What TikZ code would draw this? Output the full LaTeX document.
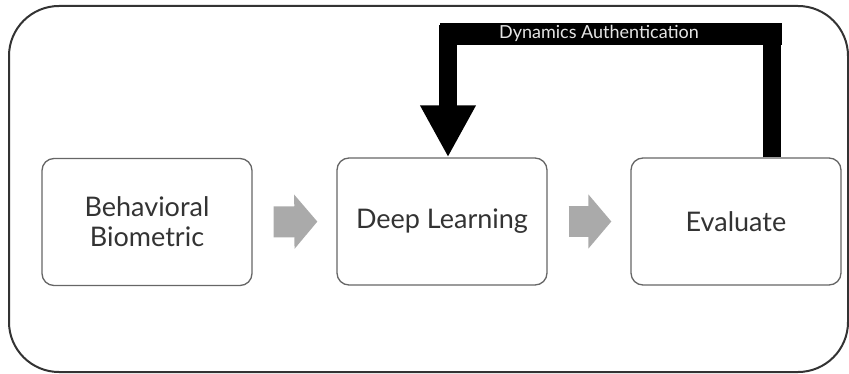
\documentclass[tikz,border=0pt]{standalone}
\usepackage{fontspec}
\setmainfont{Lato}
\usetikzlibrary{arrows.meta}
\definecolor{txtgray}{HTML}{333333}
\definecolor{boxgray}{HTML}{666666}
\definecolor{flowgray}{HTML}{AAAAAA}
\tikzset{
  stagebox/.style={draw=boxgray, line width=1.3pt, rounded corners=12pt, minimum width=210pt, minimum height=127pt, align=center, text=txtgray, font=\fontsize{27}{30}\selectfont},
  flow/.style={flowgray, line width=31pt, -{Triangle[width=53pt,length=23pt]}, shorten <=21pt, shorten >=19pt}
}
\begin{document}
\begin{tikzpicture}[x=1pt,y=-1pt]
\useasboundingbox (0,0) rectangle (849,374);
\draw[line width=2pt, color=txtgray, rounded corners=50pt] (9,6) rectangle (848,372);
\node[stagebox] (bio) at (147,222) {Behavioral\\Biometric};
\node[stagebox] (deep) at (442,221.5) {Deep Learning};
\node[stagebox] (eval) at (736,221.5) {Evaluate};
\draw[flow] (bio.east) -- (deep.west);
\draw[flow] (deep.east) -- (eval.west);
\draw[line width=18pt, -{Triangle[width=52pt,length=52pt]}] ([xshift=36pt]eval.north) -- (772,34) -- (448,34) -- ([xshift=6pt]deep.north);
\fill (440,23) rectangle (782,45);
\node[inner sep=0pt, text=black!10, font=\fontsize{18}{18}\selectfont] (auth) at (599,33) {Dynamics Authentication};
\end{tikzpicture}
\end{document}
